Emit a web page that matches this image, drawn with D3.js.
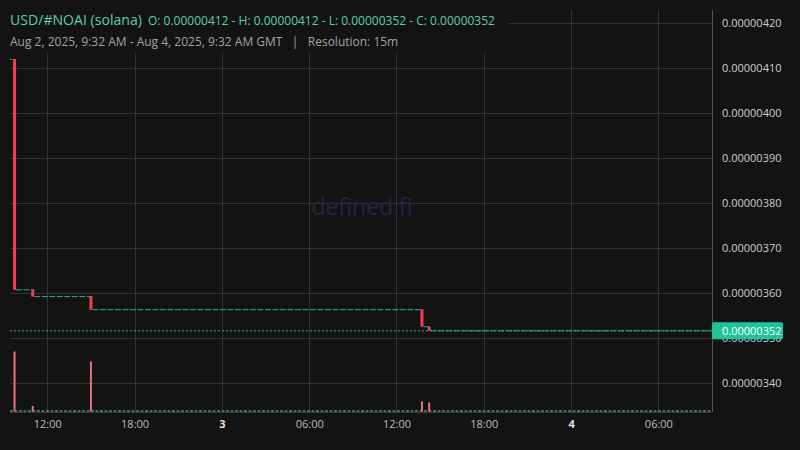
<!DOCTYPE html>
<html><head><meta charset="utf-8">
<script src="https://cdn.jsdelivr.net/npm/d3@7/dist/d3.min.js"></script>
<style>
html,body{margin:0;padding:0;background:#131313;}
svg{display:block;font-family:"Open Sans","Noto Sans",sans-serif;}
</style></head><body>
<svg id="c" width="800" height="450"></svg>
<script>
// ---- data ----
const candleTimes = ["2025-08-02T09:30Z","2025-08-02T09:45Z","2025-08-02T11:00Z","2025-08-02T15:00Z","2025-08-03T13:45Z","2025-08-03T14:15Z"];
const candleOpen  = [4.12e-6, 4.12e-6, 3.607e-6, 3.592e-6, 3.563e-6, 3.525e-6];
const candleClose = [4.12e-6, 3.607e-6, 3.592e-6, 3.563e-6, 3.525e-6, 3.516e-6];
const candleVolume = [0, 120, 11, 100, 20, 18];

const flatStart = ["2025-08-02T09:45Z","2025-08-02T11:00Z","2025-08-02T15:00Z","2025-08-03T13:45Z","2025-08-03T14:15Z"];
const flatEnd   = ["2025-08-02T11:00Z","2025-08-02T15:00Z","2025-08-03T13:45Z","2025-08-03T14:15Z","2025-08-04T09:30Z"];
const flatPrice = [3.607e-6, 3.592e-6, 3.563e-6, 3.525e-6, 3.516e-6];

const yTickValues = [3.4e-6,3.5e-6,3.6e-6,3.7e-6,3.8e-6,3.9e-6,4.0e-6,4.1e-6,4.2e-6];
const xTickTimes  = ["2025-08-02T12:00Z","2025-08-02T18:00Z","2025-08-03T00:00Z","2025-08-03T06:00Z","2025-08-03T12:00Z","2025-08-03T18:00Z","2025-08-04T00:00Z","2025-08-04T06:00Z"];
const xTickLabels = ["12:00","18:00","3","06:00","12:00","18:00","4","06:00"];
const xTickBold   = [false,false,true,false,false,false,true,false];

const titleText = "USD/#NOAI (solana)";
const ohlcText = "O: 0.00000412 - H: 0.00000412 - L: 0.00000352 - C: 0.00000352";
const subText = "Aug 2, 2025, 9:32 AM - Aug 4, 2025, 9:32 AM GMT   |   Resolution: 15m";
const lastPriceLabel = "0.00000352";

// ---- layout ----
const svg = d3.select("#c");
const L = 10, R = 712, T = 10, B = 412;
const UP = "#2aae9c", DOWN = "#f23f4d", VOL = "#e9707f";

const x = d3.scaleUtc()
  .domain([new Date("2025-08-02T09:32Z"), new Date("2025-08-04T09:32Z")])
  .range([11.4, 709.8]);
const y = d3.scaleLinear().domain([3.3356e-6, 4.2289e-6]).range([B, T]);
const yv = d3.scaleLinear().domain([0, 140]).range([B - 0.5, B - 70.5]);

svg.append("rect").attr("width", 800).attr("height", 450).attr("fill", "#131313");

svg.append("defs").append("clipPath").attr("id","pc")
  .append("rect").attr("x", L).attr("y", T).attr("width", R - L).attr("height", B - T);

// grid
const grid = svg.append("g");
grid.selectAll("line.h").data(yTickValues).join("line")
  .attr("x1", L).attr("x2", R)
  .attr("y1", d => Math.round(y(d)) + 0.5).attr("y2", d => Math.round(y(d)) + 0.5)
  .attr("stroke", "#333333").attr("stroke-width", 1);
grid.selectAll("line.v").data(xTickTimes).join("line")
  .attr("x1", d => Math.round(x(new Date(d))) + 0.5).attr("x2", d => Math.round(x(new Date(d))) + 0.5)
  .attr("y1", T).attr("y2", B)
  .attr("stroke", "#333333").attr("stroke-width", 1);

// watermark
svg.append("text").attr("x", 362).attr("y", 215).attr("text-anchor", "middle")
  .attr("font-size", 23).attr("fill", "#26243f").text("defined.fi");

const plot = svg.append("g").attr("clip-path", "url(#pc)");

// volume baseline (tiny volumes of flat candles)
plot.append("line").attr("x1", L).attr("x2", R).attr("y1", B - 1).attr("y2", B - 1)
  .attr("stroke", "#6cc7ae").attr("stroke-width", 1.2).attr("stroke-dasharray", "3,1.5");

// volume bars
const candles = candleTimes.map((t, i) => ({t: new Date(t), o: candleOpen[i], c: candleClose[i], v: candleVolume[i]}));
plot.selectAll("rect.vol").data(candles.filter(d => d.v > 0)).join("rect")
  .attr("x", d => x(d.t) - 1).attr("width", 2)
  .attr("y", d => yv(d.v)).attr("height", d => yv(0) - yv(d.v))
  .attr("fill", VOL);

// current price line
const last = candles[candles.length - 1];
plot.append("line").attr("x1", L).attr("x2", R)
  .attr("y1", y(last.c)).attr("y2", y(last.c))
  .attr("stroke", UP).attr("stroke-width", 1).attr("stroke-dasharray", "2,2");

// flat candle runs
const flats = flatStart.map((s, i) => ({s: new Date(s), e: new Date(flatEnd[i]), p: flatPrice[i]}));
plot.selectAll("line.flat").data(flats).join("line")
  .attr("x1", d => x(d.s) + 1.5).attr("x2", d => x(d.e) + 1.5)
  .attr("y1", d => y(d.p)).attr("y2", d => y(d.p))
  .attr("stroke", UP).attr("stroke-width", 1).attr("stroke-dasharray", "6,1.5");

// candles
plot.selectAll("rect.c").data(candles).join("rect")
  .attr("x", d => x(d.t) - 1.5).attr("width", 3)
  .attr("y", d => Math.min(y(d.o), y(d.c)))
  .attr("height", d => Math.max(1, Math.abs(y(d.o) - y(d.c))))
  .attr("fill", d => d.c < d.o ? DOWN : UP);

// axes borders
svg.append("line").attr("x1", R + 0.5).attr("x2", R + 0.5).attr("y1", T).attr("y2", B)
  .attr("stroke", "#555").attr("stroke-width", 1);
svg.append("line").attr("x1", L).attr("x2", R).attr("y1", B + 0.5).attr("y2", B + 0.5)
  .attr("stroke", "#3a3a3a").attr("stroke-width", 1);

// y axis
const yAxis = svg.append("g").attr("transform", `translate(${R},0)`)
  .call(d3.axisRight(y).tickValues(yTickValues).tickSize(0).tickPadding(10).tickFormat(d => d.toFixed(8)));
yAxis.select(".domain").remove();
yAxis.selectAll("text").attr("fill", "#cfcfcf").attr("font-size", 11).attr("font-family", "'Open Sans','Noto Sans',sans-serif");

// x axis
const xAxis = svg.append("g").attr("transform", `translate(0,${B})`)
  .call(d3.axisBottom(x).tickValues(xTickTimes.map(d => new Date(d))).tickSize(0).tickPadding(8)
    .tickFormat((d, i) => xTickLabels[i]));
xAxis.select(".domain").remove();
xAxis.selectAll("text").attr("font-size", 11).attr("font-family", "'Open Sans','Noto Sans',sans-serif")
  .attr("fill", (d, i) => xTickBold[i] ? "#e0e0e0" : "#bdbdbd")
  .attr("font-weight", (d, i) => xTickBold[i] ? "bold" : "normal");

// last price label
const lp = svg.append("g").attr("transform", `translate(${R},${y(last.c)})`);
lp.append("rect").attr("x", 0).attr("y", -8.5).attr("width", 71).attr("height", 17).attr("rx", 1.5).attr("fill", "#1fc49c");
lp.append("text").attr("x", 10).attr("y", 0).attr("dy", "0.35em").attr("font-size", 11)
  .attr("fill", "#ffffff").text(lastPriceLabel);

// legend box
svg.append("rect").attr("x", 0).attr("y", 0).attr("width", 508).attr("height", 53).attr("fill", "#131313");
const tt = svg.append("text").attr("x", 10).attr("y", 25);
tt.append("tspan").attr("font-size", 14.1).attr("fill", "#5ccfae").text(titleText);
tt.append("tspan").attr("dx", 6).attr("font-size", 12).attr("fill", "#5ccfae").text(ohlcText);
svg.append("text").attr("x", 10).attr("y", 46).attr("font-size", 12).attr("fill", "#a3a3a3")
  .attr("xml:space", "preserve").style("white-space", "pre").text(subText);
</script>
</body></html>
